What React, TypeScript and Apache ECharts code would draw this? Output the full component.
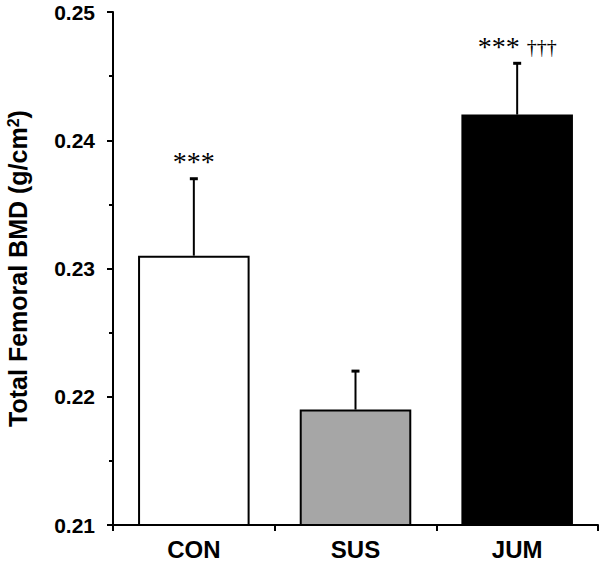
import React, { useEffect, useRef } from "react";
import * as echarts from "echarts";

const categories = ["CON", "SUS", "JUM"];
const means = [0.231, 0.219, 0.242];
const upperErrors = [0.006, 0.003, 0.004];
const stars = ["***", "", "***"];
const daggers = ["", "", "†††"];
const yTicks = { min: 0.21, max: 0.25, interval: 0.01 };

const barColors = ["#ffffff", "#a6a6a6", "#000000"];

export default function App() {
  const ref = useRef<HTMLDivElement>(null);
  useEffect(() => {
    if (!ref.current) return;
    const chart = echarts.init(ref.current, undefined, { renderer: "svg" });
    const errData = categories.map((_, i) => [i, means[i], means[i] + upperErrors[i]]);
    const option = {
      animation: false,
      grid: { left: 113, right: 2, top: 12, bottom: 39, containLabel: false, outerBoundsMode: "none" },
      xAxis: {
        type: "category",
        data: categories,
        axisLine: { lineStyle: { color: "#000", width: 2 } },
        axisTick: { show: true, length: 6, lineStyle: { color: "#000", width: 2 } },
        axisLabel: {
          color: "#000",
          fontWeight: "bold",
          fontSize: 24,
          fontFamily: "Liberation Sans, Arial, sans-serif",
          margin: 12,
        },
      },
      yAxis: {
        type: "value",
        min: yTicks.min,
        max: yTicks.max,
        interval: yTicks.interval,
        name: "Total Femoral BMD (g/cm{sup|2})",
        nameLocation: "middle",
        nameGap: 82,
        nameTextStyle: {
          color: "#000",
          fontWeight: "bold",
          fontSize: 25,
          fontFamily: "Liberation Sans, Arial, sans-serif",
          rich: {
            sup: {
              fontSize: 16,
              fontWeight: "bold",
              fontFamily: "Liberation Sans, Arial, sans-serif",
              color: "#000",
              verticalAlign: "top",
              padding: [0, 0, 10, 0],
            },
          },
        },
        axisLine: { show: true, lineStyle: { color: "#000", width: 2 } },
        axisTick: { show: true, length: 6, lineStyle: { color: "#000", width: 2 } },
        minorTick: { show: true, splitNumber: 2, length: 4, lineStyle: { color: "#000", width: 2 } },
        splitLine: { show: false },
        axisLabel: {
          color: "#000",
          fontWeight: "bold",
          fontSize: 21,
          fontFamily: "Liberation Sans, Arial, sans-serif",
          margin: 18,
          formatter: (v: number) => v.toFixed(2),
        },
      },
      series: [
        {
          type: "bar",
          data: means.map((v, i) => ({
            value: v,
            itemStyle: { color: barColors[i], borderColor: "#000", borderWidth: 2 },
          })),
          barWidth: "69%",
          z: 2,
        },
        {
          type: "custom",
          data: errData,
          encode: { x: 0, y: [1, 2] },
          z: 3,
          renderItem: (params: any, api: any) => {
            const idx = api.value(0);
            const p0 = api.coord([idx, api.value(1)]);
            const p1 = api.coord([idx, api.value(2)]);
            const cap = 8;
            const s = stars[idx];
            const d = daggers[idx];
            let text = "";
            if (s) text += "{a|" + s + "}";
            if (d) text += "{sp|  }{d|" + d + "}";
            const children: any[] = [
              {
                type: "line",
                shape: { x1: p0[0], y1: p0[1], x2: p1[0], y2: p1[1] },
                style: { stroke: "#000", lineWidth: 2 },
              },
              {
                type: "line",
                shape: { x1: p1[0] - cap / 2, y1: p1[1], x2: p1[0] + cap / 2, y2: p1[1] },
                style: { stroke: "#000", lineWidth: 3 },
              },
            ];
            if (text) {
              children.push({
                type: "text",
                style: {
                  text,
                  x: p1[0],
                  y: p1[1] - 17,
                  align: "center",
                  verticalAlign: "middle",
                  fill: "#000",
                  rich: {
                    a: {
                      fontSize: 28,
                      fontFamily: "Liberation Serif, Times New Roman, serif",
                      fill: "#000",
                      lineHeight: 28,
                    },
                    sp: {
                      fontSize: 14,
                      fontFamily: "Liberation Serif, Times New Roman, serif",
                    },
                    d: {
                      fontSize: 20,
                      fontFamily: "Liberation Serif, Times New Roman, serif",
                      fill: "#000",
                      color: "#000",
                      padding: [1, 0, 0, 0],
                    },
                  },
                },
              });
            }
            return { type: "group", children };
          },
        },
      ],
    };
    chart.setOption(option as any);
    return () => chart.dispose();
  }, []);
  return (
    <div
      ref={ref}
      style={{ position: "absolute", left: 0, top: 0, width: 600, height: 564 }}
    />
  );
}
